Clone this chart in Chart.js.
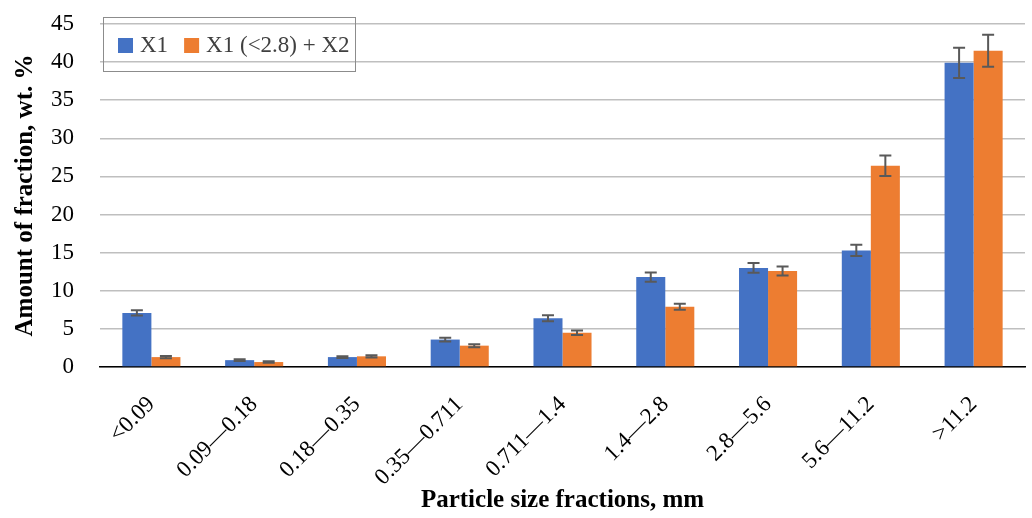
<!DOCTYPE html>
<html>
<head>
<meta charset="utf-8">
<script src="https://cdn.jsdelivr.net/npm/chart.js@4/dist/chart.umd.min.js"></script>
<style>
  html, body { margin: 0; padding: 0; background: #fff; }
  #wrap { width: 1032px; height: 518px; }
</style>
</head>
<body>
<div id="wrap"><canvas id="chart" width="1032" height="518"></canvas></div>
<script>
// --- Data ---
const categories = ['<0.09', '0.09\u20140.18', '0.18\u20140.35', '0.35\u20140.711', '0.711\u20141.4',
                    '1.4\u20142.8', '2.8\u20145.6', '5.6\u201411.2', '>11.2'];
const x1Values = [7.1, 0.9, 1.3, 3.6, 6.4, 11.8, 13.0, 15.3, 39.9];
const x1Errors = [0.35, 0.12, 0.12, 0.25, 0.4, 0.6, 0.65, 0.75, 2.0];
const mixValues = [1.3, 0.65, 1.4, 2.8, 4.5, 7.9, 12.6, 26.4, 41.5];
const mixErrors = [0.15, 0.1, 0.15, 0.2, 0.3, 0.4, 0.6, 1.35, 2.1];
const seriesNames = ['X1', 'X1 (<2.8) + X2'];
const yTicks = [0, 5, 10, 15, 20, 25, 30, 35, 40, 45];

const errorsBySeries = [x1Errors, mixErrors];
const serif = "'Liberation Serif', 'DejaVu Serif', serif";

// --- Error bars ---
const errorBars = {
    id: 'errorBars',
    afterDatasetsDraw(chart) {
        const ctx = chart.ctx;
        const yScale = chart.scales.y;
        ctx.save();
        ctx.strokeStyle = '#595959';
        ctx.lineWidth = 2;
        chart.data.datasets.forEach((ds, di) => {
            const meta = chart.getDatasetMeta(di);
            meta.data.forEach((bar, i) => {
                const v = ds.data[i];
                const e = errorsBySeries[di][i];
                const yTop = yScale.getPixelForValue(v + e);
                const yBot = yScale.getPixelForValue(v - e);
                const cap = 6;
                ctx.beginPath();
                ctx.moveTo(bar.x, yTop); ctx.lineTo(bar.x, yBot);
                ctx.moveTo(bar.x - cap, yTop); ctx.lineTo(bar.x + cap, yTop);
                ctx.moveTo(bar.x - cap, yBot); ctx.lineTo(bar.x + cap, yBot);
                ctx.stroke();
            });
        });
        ctx.restore();
    }
};

// --- Legend box inside plot (transparent, gridlines show through) ---
const boxLegend = {
    id: 'boxLegend',
    afterDraw(chart) {
        const ctx = chart.ctx;
        const x0 = 103, y0 = 17, w = 252, h = 54;
        ctx.save();
        ctx.strokeStyle = '#8c8c8c';
        ctx.lineWidth = 1;
        ctx.strokeRect(x0 + 0.5, y0 + 0.5, w, h);
        ctx.font = "23px " + serif;
        ctx.textBaseline = 'middle';
        let x = 118;
        chart.data.datasets.forEach((ds) => {
            ctx.fillStyle = ds.backgroundColor;
            ctx.fillRect(x, 38, 15, 15);
            ctx.fillStyle = '#404040';
            ctx.fillText(ds.label, x + 22, 46);
            x += 22 + ctx.measureText(ds.label).width + 16;
        });
        ctx.restore();
    }
};

new Chart(document.getElementById('chart'), {
    type: 'bar',
    data: {
        labels: categories,
        datasets: [
            { label: seriesNames[0], data: x1Values, backgroundColor: '#4472C4' },
            { label: seriesNames[1], data: mixValues, backgroundColor: '#ED7D31' }
        ]
    },
    options: {
        responsive: false,
        animation: false,
        layout: { padding: { left: 0, right: 7, top: 24, bottom: 0 } },
        datasets: { bar: { categoryPercentage: 0.565, barPercentage: 1.0 } },
        plugins: {
            legend: { display: false },
            tooltip: { enabled: false }
        },
        scales: {
            x: {
                afterFit(axis) { axis.height = 151; axis.paddingTop = 0; axis.paddingBottom = 0; },
                grid: { display: false, drawTicks: false },
                border: { display: true, color: '#000000', width: 1.5 },
                ticks: {
                    color: '#000000',
                    font: { family: serif, size: 23 },
                    minRotation: 45, maxRotation: 45,
                    padding: 24
                },
                title: {
                    display: true,
                    text: 'Particle size fractions, mm',
                    color: '#000000',
                    font: { family: serif, size: 25, weight: 'bold' },
                    padding: { top: 0, bottom: 2 }
                }
            },
            y: {
                min: 0, max: 45,
                afterBuildTicks(axis) { axis.ticks = yTicks.map(v => ({ value: v })); },
                afterFit(axis) { axis.width = 100; axis.paddingTop = 0; axis.paddingBottom = 0; },
                grid: { color: '#bfbfbf', lineWidth: 1.5, drawTicks: false },
                border: { display: false },
                ticks: {
                    color: '#000000',
                    font: { family: serif, size: 23 },
                    padding: 26
                },
                title: {
                    display: true,
                    text: 'Amount of fraction, wt. %',
                    color: '#000000',
                    font: { family: serif, size: 25, weight: 'bold' },
                    padding: { top: 11, bottom: 0 }
                }
            }
        }
    },
    plugins: [errorBars, boxLegend]
});
</script>
</body>
</html>
